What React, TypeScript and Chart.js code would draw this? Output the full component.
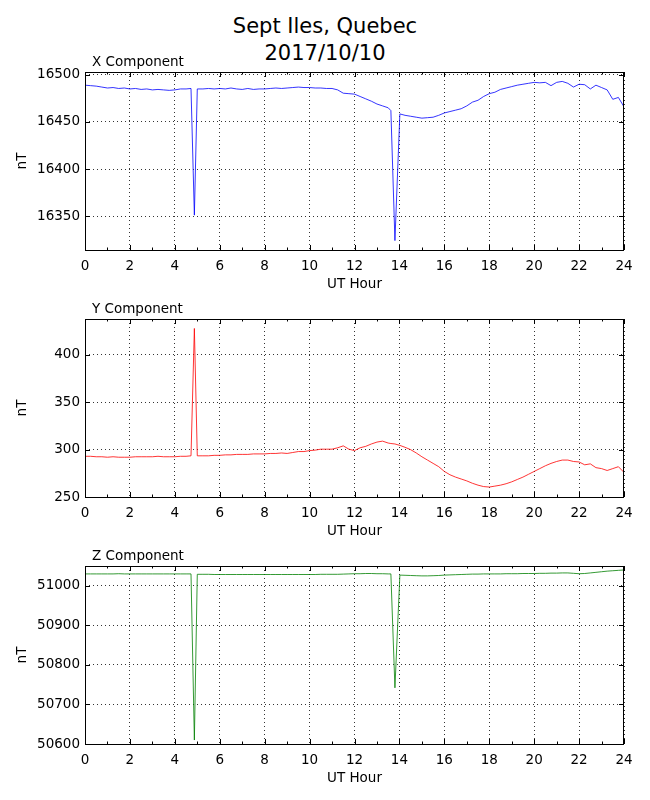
import { useEffect, useRef } from "react";
import { Chart, registerables } from "chart.js";

Chart.register(...registerables);

// UT hours of the samples (extra samples around the two spikes)
const hours = [
  0, 0.25, 0.5, 0.75, 1, 1.25, 1.5, 1.75, 2, 2.25, 2.5, 2.75, 3, 3.25, 3.5, 3.75, 4, 4.25, 4.5,
  4.72, 4.87, 5,
  5.25, 5.5, 5.75, 6, 6.25, 6.5, 6.75, 7, 7.25, 7.5, 7.75, 8, 8.25, 8.5, 8.75, 9,
  9.25, 9.5, 9.75, 10, 10.25, 10.5, 10.75, 11, 11.25, 11.5, 11.75, 12, 12.25, 12.5, 12.75, 13, 13.25, 13.5,
  13.62, 13.8, 14.02,
  14.25, 14.5, 14.75, 15, 15.25, 15.5, 15.75, 16, 16.25, 16.5, 16.75, 17, 17.25, 17.5, 17.75, 18,
  18.25, 18.5, 18.75, 19, 19.25, 19.5, 19.75, 20, 20.25, 20.5, 20.75, 21, 21.25, 21.5, 21.75, 22,
  22.25, 22.5, 22.75, 23, 23.25, 23.5, 23.75, 24,
];

const xComponent = [
  16489, 16488.5, 16488, 16487, 16486, 16486.5, 16485.5, 16486, 16485, 16485.5, 16484.5, 16485,
  16484, 16484.5, 16484, 16483.5, 16484, 16485, 16485,
  16485.5, 16351, 16485,
  16485, 16485.5, 16485, 16485.5, 16485, 16486, 16485, 16484.5, 16485.5, 16484.5, 16485, 16485,
  16485.5, 16486, 16485.5, 16486, 16486.5, 16487, 16486.5, 16486.5, 16486, 16486, 16485.5, 16485.5,
  16484, 16480.5, 16480, 16479.5, 16477, 16474.5, 16472, 16469, 16467, 16465,
  16462, 16324, 16458.5,
  16457, 16456, 16455, 16454, 16454.5, 16455, 16457, 16459.5, 16461, 16462.5, 16464, 16467,
  16471, 16473, 16477, 16480, 16481.5, 16484.5, 16486, 16487.5, 16489, 16490, 16491, 16492,
  16491.5, 16492, 16488.5, 16492, 16493, 16491, 16487, 16490, 16489.5, 16485, 16489, 16486.5,
  16484, 16474, 16476, 16466,
];

const yComponent = [
  293, 293, 292.5, 292.5, 292, 292.5, 292, 292, 292, 292.5, 292.5, 292.5,
  292.5, 293, 292.5, 292.5, 292.5, 293, 293,
  293.5, 428, 293.5,
  293.5, 293.5, 294, 294, 294.5, 294.5, 295, 295, 295, 295.5, 295.5, 295.5,
  296, 296, 296.5, 296, 297, 298, 298, 299, 299.5, 300.5, 300.5, 300.5,
  302, 304, 300.5, 299, 302, 303.5, 306, 308, 309, 307,
  306.5, 306, 304.5,
  302.5, 300, 296.5, 292.5, 289, 285.5, 282, 277, 273.5, 271, 269, 267,
  264.5, 262.5, 261, 260.5, 261.5, 262.5, 264, 266, 268.5, 271, 274, 277,
  280, 283, 285.5, 287.5, 289, 289, 287.5, 287, 284, 285, 281, 280,
  278, 280, 282, 276,
];

const zComponent = [
  51030, 51030, 51030, 51030, 51030, 51030, 51030.5, 51030, 51030, 51030, 51030, 51030,
  51030, 51030, 51030, 51030, 51030, 51030, 51030,
  51030, 50610, 51029,
  51029, 51029, 51028.5, 51028.5, 51028.5, 51028.5, 51028.5, 51028.5, 51028.5, 51028.5, 51028.5, 51028.5,
  51028.5, 51028.5, 51028.5, 51028.5, 51028.5, 51028.5, 51028.5, 51028.5, 51028.5, 51029, 51029, 51029,
  51029, 51029.5, 51030, 51030.5, 51030.5, 51031, 51031, 51030.5, 51030.5, 51030,
  51030, 50742, 51027,
  51026.5, 51026, 51025.5, 51025, 51025, 51025.5, 51026, 51027, 51027.5, 51028, 51028.5, 51029,
  51029.5, 51029.5, 51030, 51030, 51030, 51030, 51030.5, 51030.5, 51030.5, 51031, 51031, 51031,
  51031.5, 51031.5, 51032, 51032, 51032.5, 51032.5, 51031.5, 51030.5, 51031, 51032.5, 51034, 51035.5,
  51037, 51038, 51039, 51040,
];

const hourTicks = [0, 2, 4, 6, 8, 10, 12, 14, 16, 18, 20, 22, 24];
const hourMinorTicks = [1, 3, 5, 7, 9, 11, 13, 15, 17, 19, 21, 23];
const xTicks = [16350, 16400, 16450, 16500];
const yTicks = [250, 300, 350, 400];
const zTicks = [50600, 50700, 50800, 50900, 51000];

const FONT = "DejaVu Sans";
Chart.defaults.color = "#000";
Chart.defaults.font.family = FONT;

const AREA_TOP = 32;

type PanelProps = {
  top: number;
  title: string;
  values: number[];
  color: string;
  min: number;
  max: number;
  ticks: number[];
};

function Panel({ top, title, values, color, min, max, ticks }: PanelProps) {
  const ref = useRef<HTMLCanvasElement>(null);

  useEffect(() => {
    // box, inward tick marks and the panel title, matplotlib style
    const frame = {
      id: "frame",
      afterDatasetsDraw(chart: any) {
        const { ctx, chartArea: a, scales } = chart;
        ctx.save();
        ctx.strokeStyle = "#000";
        ctx.lineWidth = 1;
        ctx.strokeRect(Math.round(a.left) + 0.5, Math.round(a.top) + 0.5, Math.round(a.width) - 1, Math.round(a.height));
        ctx.beginPath();
        const tickX = (h: number, len: number) => {
          const px = Math.round(scales.x.getPixelForValue(h)) + 0.5;
          ctx.moveTo(px, a.bottom);
          ctx.lineTo(px, a.bottom - len);
          ctx.moveTo(px, a.top);
          ctx.lineTo(px, a.top + len);
        };
        hourTicks.forEach((h) => tickX(h, 5));
        hourMinorTicks.forEach((h) => tickX(h, 2.5));
        ticks.forEach((v) => {
          const py = Math.round(scales.y.getPixelForValue(v)) + 0.5;
          ctx.moveTo(a.left, py);
          ctx.lineTo(a.left + 5, py);
          ctx.moveTo(a.right, py);
          ctx.lineTo(a.right - 5, py);
        });
        ctx.stroke();
        ctx.fillStyle = "#000";
        ctx.font = `13.5px "${FONT}"`;
        ctx.textAlign = "left";
        ctx.textBaseline = "alphabetic";
        ctx.fillText(title, a.left + 7, a.top - 6);
        ctx.restore();
      },
    };

    const chart = new Chart(ref.current!, {
      type: "line",
      data: {
        datasets: [
          {
            data: hours.map((h, i) => ({ x: h, y: values[i] })),
            borderColor: color,
            borderWidth: 0.8,
            pointRadius: 0,
            tension: 0,
          },
        ],
      },
      options: {
        animation: false,
        responsive: false,
        devicePixelRatio: 1,
        layout: { padding: { top: AREA_TOP, right: 26, left: 0, bottom: 0 } },
        plugins: { legend: { display: false }, tooltip: { enabled: false } },
        scales: {
          x: {
            type: "linear",
            min: 0,
            max: 24,
            afterBuildTicks: (s: any) => {
              s.ticks = hourTicks.map((v) => ({ value: v }));
            },
            afterFit: (s: any) => {
              s.height = 50;
            },
            ticks: { padding: 8, maxRotation: 0, autoSkip: false, font: { size: 13.5 } },
            grid: { color: "#000", lineWidth: 0.8, drawTicks: false },
            border: { display: false, dash: [1, 3] },
            title: { display: true, text: "UT Hour", font: { size: 13.5 }, padding: 7 },
          },
          y: {
            type: "linear",
            min,
            max,
            afterBuildTicks: (s: any) => {
              s.ticks = ticks.map((v) => ({ value: v }));
            },
            afterFit: (s: any) => {
              s.width = 85;
            },
            ticks: { padding: 5, font: { size: 13.5 }, callback: (v: any) => String(v) },
            grid: { color: "#000", lineWidth: 0.8, drawTicks: false },
            border: { display: false, dash: [1, 3] },
            title: { display: true, text: "nT", font: { size: 13.5 }, padding: 14 },
          },
        },
      },
      plugins: [frame],
    });
    return () => chart.destroy();
  }, [title, values, color, min, max, ticks]);

  return (
    <canvas
      ref={ref}
      width={650}
      height={260}
      style={{ position: "absolute", left: 0, top: top - AREA_TOP, width: 650, height: 260 }}
    />
  );
}

export default function App() {
  return (
    <div style={{ position: "absolute", left: 0, top: 0, width: 650, height: 800, background: "#fff" }}>
      <div
        style={{
          position: "absolute",
          left: 0,
          top: 13,
          width: 650,
          textAlign: "center",
          fontFamily: FONT,
          fontSize: 21,
          lineHeight: "27px",
        }}
      >
        Sept Iles, Quebec
        <br />
        2017/10/10
      </div>
      <Panel top={72} title="X Component" values={xComponent} color="#0000ff" min={16314} max={16503} ticks={xTicks} />
      <Panel top={319} title="Y Component" values={yComponent} color="#ff0000" min={250} max={438} ticks={yTicks} />
      <Panel top={566} title="Z Component" values={zComponent} color="#008000" min={50600} max={51050} ticks={zTicks} />
    </div>
  );
}
